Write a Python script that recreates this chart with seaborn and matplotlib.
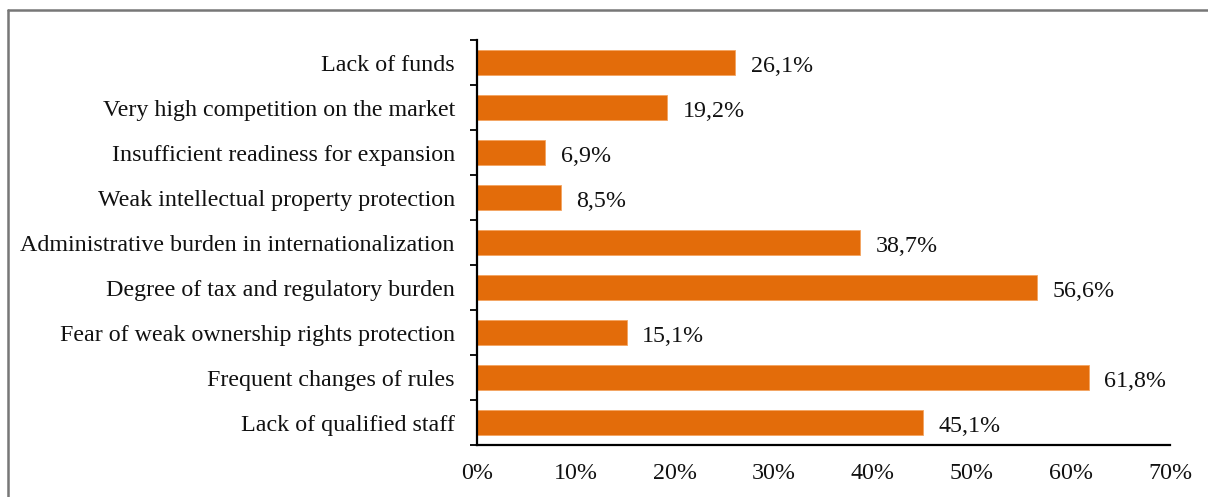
import numpy as np
import pandas as pd
import seaborn as sns
from matplotlib import pyplot as plt
from matplotlib.lines import Line2D
from matplotlib.ticker import FixedLocator, PercentFormatter

categories = [
    "Lack of funds",
    "Very high competition on the market",
    "Insufficient readiness for expansion",
    "Weak intellectual property protection",
    "Administrative burden in internationalization",
    "Degree of tax and regulatory burden",
    "Fear of weak ownership rights protection",
    "Frequent changes of rules",
    "Lack of qualified staff",
]
shares = [26.1, 19.2, 6.9, 8.5, 38.7, 56.6, 15.1, 61.8, 45.1]
x_ticks = [0, 10, 20, 30, 40, 50, 60, 70]

bar_color = "#E36C0A"
font_size = 17.3

sns.set_style("white")
plt.rcParams["font.family"] = ["Liberation Serif", "DejaVu Serif"]
plt.rcParams["font.size"] = font_size

df = pd.DataFrame({"category": categories, "share": shares})

fig = plt.figure(figsize=(12.08, 4.97), dpi=100)
ax = fig.add_axes([0.3949, 0.1046, 0.9685 - 0.3949, 0.9195 - 0.1046])

sns.barplot(data=df, x="share", y="category", orient="h", color=bar_color,
            saturation=1, width=0.54, edgecolor="#F4A460", linewidth=0.6, ax=ax)

ax.set_xlim(0, 70)
ax.set_ylim(len(categories) - 0.5, -0.5)
ax.xaxis.set_major_locator(FixedLocator(x_ticks))
ax.xaxis.set_major_formatter(PercentFormatter(decimals=0))
ax.set_xlabel("")
ax.set_ylabel("")

# Excel-style tick marks between categories
ax.yaxis.set_minor_locator(FixedLocator(np.arange(-0.5, len(categories), 1.0)))
ax.tick_params(axis="y", which="major", length=0, pad=16, labelsize=font_size, colors="#111111")
ax.tick_params(axis="y", which="minor", length=5, width=1.3, color="black", left=True)
ax.tick_params(axis="x", which="major", length=0, pad=13, labelsize=font_size, colors="#111111")

for side in ["top", "right"]:
    ax.spines[side].set_visible(False)
for side in ["left", "bottom"]:
    ax.spines[side].set_color("black")
    ax.spines[side].set_linewidth(1.6)

labels = [f"{v:.1f}%".replace(".", ",") for v in shares]
value_texts = ax.bar_label(ax.containers[0], labels=labels, padding=11,
                           fontsize=font_size, color="#111111")
for t in value_texts:
    t.xyann = (11, -3)

# frame lines (left and top only visible)
fig.add_artist(Line2D([8 / 1208, 8 / 1208], [0, 1 - 10 / 497], color="#777777", linewidth=1.8))
fig.add_artist(Line2D([8 / 1208, 1], [1 - 10 / 497, 1 - 10 / 497], color="#777777", linewidth=1.8))

plt.savefig("out.png", dpi=100)
